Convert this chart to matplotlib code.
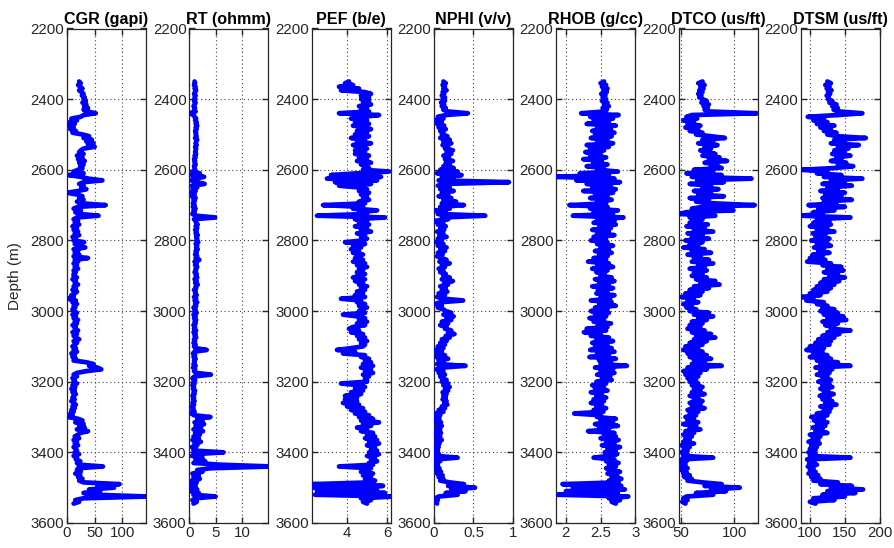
import numpy as np
import matplotlib
matplotlib.use('Agg')
import matplotlib.pyplot as plt

plt.rcParams['font.family'] = ['Liberation Sans', 'DejaVu Sans']

# Depth samples (m), 5 m spacing
depth = np.arange(2350, 3546, 5)

cgr = [22, 25, 20, 24, 28, 22, 26, 30, 27, 32,
       30, 34, 28, 35, 31, 38, 30, 36, 52, 30,
       25, 8, 18, 5, 14, 4, 12, 6, 16, 10,
       28, 40, 30, 45, 35, 48, 38, 50, 30, 25,
       22, 30, 18, 28, 20, 32, 22, 30, 24, 28,
       20, 12, 30, 3, 25, 38, 64, 30, 22, 30,
       26, 35, 20, 0, 18, 28, 22, 30, 18, 25,
       70, 20, 12, 25, 15, 22, 57, 18, 12, 20,
       14, 22, 10, 18, 12, 20, 14, 22, 10, 16,
       12, 31, 14, 20, 33, 12, 20, 14, 22, 12,
       38, 14, 20, 12, 18, 14, 20, 12, 16, 12,
       12, 18, 10, 16, 14, 20, 12, 16, 10, 18,
       14, 8, 12, 0, 16, 10, 18, 12, 15, 10,
       12, 18, 10, 16, 12, 20, 14, 18, 10, 16,
       14, 20, 10, 18, 12, 16, 22, 12, 18, 14,
       10, 16, 12, 18, 8, 14, 10, 16, 12, 35,
       48, 40, 55, 62, 35, 18, 12, 18, 10, 14,
       12, 18, 10, 15, 8, 14, 10, 16, 12, 10,
       14, 8, 12, 16, 10, 14, 8, 12, 6, 10,
       2, 20, 28, 15, 30, 22, 32, 18, 38, 24,
       20, 14, 22, 12, 18, 14, 20, 12, 16, 18,
       14, 22, 12, 18, 16, 24, 18, 22, 65, 20,
       18, 25, 15, 24, 20, 28, 22, 30, 95, 55,
       85, 40, 60, 30, 50, 145, 30, 15, 22, 12]

rt = [1.0, 1.1, 0.9, 1.2, 1.0, 1.3, 1.1, 0.9, 1.2, 1.0,
      1.1, 0.9, 1.2, 1.0, 0.8, 1.1, 0.9, 1.2, 0.1, 0.8,
      1.0, 1.3, 1.1, 1.4, 1.2, 1.5, 1.2, 1.4, 1.1, 1.3,
      1.2, 1.4, 1.1, 1.5, 1.3, 1.2, 1.4, 1.1, 1.3, 1.2,
      1.1, 1.3, 1.0, 1.2, 0.9, 1.1, 1.0, 1.2, 0.9, 1.0,
      1.1, 0.6, 2.0, 0.3, 2.8, 1.0, 0.4, 1.5, 2.9, 0.5,
      1.5, 0.6, 1.2, 0.4, 1.0, 0.5, 1.2, 0.8, 1.0, 0.7,
      1.0, 0.7, 1.2, 0.8, 1.0, 0.6, 1.2, 4.9, 0.9, 1.2,
      1.3, 1.6, 1.2, 1.5, 1.1, 1.4, 1.2, 1.6, 1.3, 1.5,
      1.4, 1.7, 1.2, 1.5, 1.3, 1.6, 1.2, 1.4, 1.1, 1.5,
      1.2, 1.9, 1.0, 1.4, 1.1, 1.5, 1.2, 1.3, 1.0, 1.4,
      1.2, 1.5, 1.0, 1.4, 1.1, 1.6, 1.2, 1.3, 0.9, 1.2,
      1.1, 1.4, 0.9, 1.3, 1.0, 1.5, 1.1, 1.3, 0.8, 1.2,
      1.0, 1.4, 0.8, 1.2, 0.9, 1.3, 1.0, 1.2, 0.8, 1.1,
      0.9, 1.3, 0.8, 1.2, 1.0, 1.3, 0.9, 1.1, 0.8, 1.2,
      0.9, 1.2, 3.3, 1.0, 0.7, 1.1, 0.8, 1.2, 0.9, 1.0,
      0.8, 1.2, 0.7, 1.1, 0.9, 1.3, 4.1, 1.0, 0.6, 1.1,
      0.8, 1.0, 0.6, 0.9, 0.7, 1.1, 0.8, 1.0, 0.6, 0.9,
      0.7, 1.0, 0.6, 0.9, 0.5, 0.8, 0.6, 1.0, 0.4, 0.9,
      4.0, 1.5, 2.5, 1.0, 2.8, 1.2, 2.2, 0.8, 2.6, 1.1,
      2.0, 0.8, 1.8, 0.6, 2.2, 1.0, 1.5, 0.5, 1.2, 0.8,
      6.5, 1.0, 0.5, 2.5, 1.2, 3.0, 0.8, 6.0, 15.5, 4.0,
      1.5, 2.5, 0.6, 1.8, 0.8, 2.0, 0.5, 1.4, 0.3, 1.2,
      0.4, 1.5, 0.3, 1.8, 0.8, 5.0, 1.2, 0.6, 1.4, 0.8]

pef = [4.1, 3.9, 4.3, 3.6, 4.6, 3.7, 4.9, 5.2, 4.7, 5.1,
       4.7, 5.1, 4.8, 5.2, 4.6, 5.0, 4.7, 5.1, 3.6, 5.6,
       4.8, 4.2, 5.0, 4.4, 5.1, 4.3, 4.9, 5.2, 4.5, 5.0,
       4.4, 5.1, 4.2, 4.9, 4.5, 5.2, 4.3, 4.8, 5.0, 4.4,
       4.9, 4.4, 5.1, 4.6, 5.0, 4.5, 5.2, 4.7, 4.9, 5.1,
       4.8, 6.1, 4.5, 3.2, 5.7, 3.0, 5.5, 3.4, 5.2, 3.6,
       4.6, 5.0, 4.6, 5.1, 4.7, 5.0, 4.8, 5.1, 4.6, 4.9,
       2.8, 4.8, 4.3, 5.5, 4.6, 5.0, 2.5, 5.9, 4.4, 5.0,
       4.6, 5.1, 4.4, 5.0, 4.7, 5.2, 4.5, 4.9, 4.7, 5.0,
       4.8, 3.9, 4.9, 4.3, 4.7, 4.2, 4.6, 4.3, 4.8, 4.5,
       4.4, 4.8, 4.3, 4.9, 4.5, 5.0, 4.6, 4.8, 4.5, 4.9,
       4.6, 4.3, 4.9, 4.4, 4.8, 4.6, 5.0, 4.7, 4.9, 4.5,
       4.8, 4.4, 4.9, 3.7, 4.7, 4.5, 4.9, 4.6, 5.0, 4.7,
       4.6, 4.9, 3.8, 4.5, 4.9, 4.6, 5.0, 4.5, 4.9, 4.3,
       4.1, 4.6, 4.2, 4.8, 4.5, 4.9, 4.6, 5.0, 4.7, 4.9,
       4.8, 4.2, 3.5, 4.4, 3.8, 4.9, 4.7, 5.1, 4.9, 5.2,
       4.8, 5.3, 4.7, 5.2, 4.9, 5.3, 4.8, 5.1, 4.9, 5.0,
       5.0, 3.7, 4.6, 4.9, 4.4, 4.8, 4.2, 4.7, 3.9, 4.5,
       3.9, 4.5, 3.8, 4.6, 4.0, 4.8, 4.2, 4.9, 4.4, 5.1,
       4.6, 5.3, 4.7, 5.6, 4.8, 5.2, 4.5, 5.0, 4.7, 5.3,
       5.0, 5.4, 4.9, 5.5, 5.1, 5.6, 5.0, 5.4, 5.2, 5.5,
       5.1, 5.6, 5.0, 5.4, 5.2, 5.5, 5.1, 5.3, 3.6, 5.2,
       5.0, 4.7, 5.3, 4.8, 5.2, 4.9, 5.4, 5.2, 2.3, 5.8,
       2.2, 5.5, 2.5, 5.9, 2.4, 6.3, 4.7, 5.2, 4.8, 5.0]

nphi = [0.12, 0.15, 0.11, 0.14, 0.12, 0.16, 0.11, 0.13, 0.10, 0.14,
        0.11, 0.14, 0.09, 0.13, 0.10, 0.15, 0.12, 0.18, 0.43, 0.15,
        0.05, 0.12, 0.02, 0.10, 0.04, 0.13, 0.06, 0.15, 0.08, 0.12,
        0.10, 0.17, 0.08, 0.20, 0.12, 0.22, 0.11, 0.18, 0.14, 0.24,
        0.16, 0.22, 0.12, 0.19, 0.14, 0.24, 0.15, 0.20, 0.12, 0.25,
        0.08, 0.30, 0.04, 0.35, 0.10, 0.25, 0.06, 0.95, 0.15, 0.05,
        0.20, 0.08, 0.25, 0.10, 0.18, 0.06, 0.22, 0.12, 0.28, 0.10,
        0.38, 0.08, 0.20, 0.02, 0.15, 0.05, 0.65, 0.10, 0.18, 0.00,
        0.12, 0.05, 0.15, 0.08, 0.13, 0.04, 0.12, 0.07, 0.16, 0.05,
        0.10, 0.03, 0.12, 0.05, 0.16, 0.08, 0.14, 0.05, 0.11, 0.04,
        0.10, 0.16, 0.07, 0.20, 0.10, 0.14, 0.06, 0.12, 0.08, 0.15,
        0.12, 0.20, 0.10, 0.24, 0.13, 0.18, 0.08, 0.15, 0.10, 0.17,
        0.06, 0.14, 0.04, 0.12, 0.37, 0.08, 0.02, 0.10, 0.05, 0.12,
        0.15, 0.22, 0.12, 0.25, 0.16, 0.22, 0.10, 0.18, 0.08, 0.16,
        0.14, 0.22, 0.18, 0.26, 0.15, 0.20, 0.10, 0.16, 0.08, 0.14,
        0.05, 0.12, 0.02, 0.10, 0.04, 0.14, 0.03, 0.18, 0.06, 0.12,
        0.04, 0.40, 0.10, 0.03, 0.12, 0.06, 0.14, 0.08, 0.10, 0.16,
        0.10, 0.18, 0.12, 0.20, 0.14, 0.18, 0.11, 0.16, 0.12, 0.15,
        0.11, 0.16, 0.13, 0.17, 0.10, 0.14, 0.06, 0.12, 0.02, 0.08,
        0.02, 0.07, 0.01, 0.09, 0.03, 0.10, 0.04, 0.08, 0.02, 0.09,
        0.03, 0.08, 0.02, 0.10, 0.04, 0.07, 0.01, 0.06, 0.02, 0.05,
        0.01, 0.06, 0.03, 0.30, 0.02, 0.08, 0.00, 0.05, 0.02, 0.07,
        0.03, 0.09, 0.04, 0.11, 0.06, 0.12, 0.08, 0.20, 0.38, 0.18,
        0.52, 0.22, 0.40, 0.15, 0.30, 0.06, 0.02, 0.05, 0.03, 0.04]

rhob = [2.55, 2.50, 2.58, 2.52, 2.60, 2.54, 2.59, 2.51, 2.57, 2.53,
        2.58, 2.52, 2.60, 2.55, 2.62, 2.53, 2.59, 2.55, 2.22, 2.76,
        2.35, 2.68, 2.40, 2.62, 2.30, 2.72, 2.45, 2.65, 2.38, 2.70,
        2.42, 2.66, 2.36, 2.60, 2.45, 2.68, 2.30, 2.62, 2.35, 2.55,
        2.28, 2.50, 2.35, 2.58, 2.25, 2.52, 2.40, 2.60, 2.30, 2.55,
        2.45, 2.75, 2.20, 2.62, 1.84, 2.70, 2.15, 2.78, 2.30, 2.65,
        2.38, 2.72, 2.25, 2.68, 2.42, 2.60, 2.35, 2.66, 2.45, 2.58,
        2.05, 2.60, 2.35, 2.75, 2.40, 2.68, 2.10, 2.83, 2.45, 2.70,
        2.40, 2.72, 2.48, 2.65, 2.38, 2.62, 2.45, 2.70, 2.40, 2.58,
        2.36, 2.60, 2.45, 2.68, 2.50, 2.62, 2.42, 2.66, 2.48, 2.60,
        2.40, 2.58, 2.32, 2.62, 2.45, 2.68, 2.38, 2.60, 2.44, 2.56,
        2.50, 2.66, 2.42, 2.70, 2.48, 2.62, 2.38, 2.68, 2.46, 2.60,
        2.44, 2.70, 2.50, 2.64, 2.36, 2.66, 2.48, 2.72, 2.42, 2.60,
        2.36, 2.62, 2.42, 2.58, 2.34, 2.55, 2.40, 2.65, 2.46, 2.60,
        2.30, 2.58, 2.26, 2.50, 2.36, 2.62, 2.44, 2.68, 2.38, 2.60,
        2.42, 2.66, 2.35, 2.70, 2.45, 2.62, 2.34, 2.72, 2.48, 2.65,
        2.50, 2.88, 2.42, 2.68, 2.50, 2.70, 2.45, 2.64, 2.52, 2.66,
        2.44, 2.58, 2.38, 2.55, 2.42, 2.60, 2.36, 2.52, 2.44, 2.58,
        2.40, 2.55, 2.36, 2.52, 2.44, 2.58, 2.40, 2.54, 2.12, 2.50,
        2.45, 2.72, 2.50, 2.68, 2.42, 2.75, 2.48, 2.62, 2.32, 2.70,
        2.55, 2.72, 2.50, 2.76, 2.58, 2.70, 2.52, 2.78, 2.60, 2.72,
        2.56, 2.74, 2.62, 2.40, 2.70, 2.58, 2.76, 2.62, 2.72, 2.58,
        2.65, 2.78, 2.60, 2.74, 2.66, 2.80, 2.62, 2.76, 1.95, 2.80,
        2.10, 2.85, 2.00, 2.75, 1.88, 2.90, 2.62, 2.78, 2.66, 2.72]

dtco = [70, 66, 72, 68, 71, 67, 70, 66, 69, 67,
        70, 74, 69, 76, 71, 75, 72, 77, 121, 60,
        55, 65, 52, 62, 56, 68, 54, 66, 58, 70,
        64, 78, 91, 70, 80, 66, 84, 72, 78, 68,
        74, 82, 70, 86, 76, 93, 72, 84, 78, 88,
        62, 80, 55, 88, 60, 116, 65, 90, 58, 78,
        70, 85, 62, 78, 66, 90, 58, 76, 64, 80,
        119, 70, 60, 99, 55, 48, 82, 58, 70, 62,
        58, 75, 55, 72, 62, 80, 56, 70, 60, 76,
        54, 70, 58, 66, 52, 72, 60, 78, 56, 68,
        62, 76, 60, 80, 66, 72, 58, 74, 62, 70,
        60, 74, 64, 82, 68, 86, 62, 76, 58, 70,
        54, 68, 50, 62, 56, 66, 52, 60, 55, 64,
        58, 76, 62, 80, 66, 74, 60, 70, 58, 68,
        56, 72, 60, 78, 64, 82, 62, 74, 58, 70,
        54, 66, 52, 70, 56, 74, 58, 78, 62, 72,
        60, 88, 56, 74, 52, 68, 54, 66, 56, 64,
        58, 66, 60, 70, 62, 68, 60, 72, 58, 66,
        62, 70, 58, 68, 60, 72, 56, 66, 58, 64,
        54, 62, 56, 66, 52, 64, 58, 68, 54, 62,
        52, 60, 54, 58, 52, 62, 50, 58, 53, 56,
        50, 56, 52, 80, 50, 55, 49, 54, 51, 56,
        50, 55, 52, 58, 53, 60, 56, 70, 88, 72,
        105, 78, 92, 64, 80, 55, 52, 56, 51, 54]

dtsm = [125, 130, 122, 128, 124, 131, 126, 129, 124, 127,
        126, 132, 128, 138, 132, 140, 134, 142, 175, 140,
        97, 120, 105, 125, 110, 135, 115, 130, 120, 138,
        125, 140, 180, 135, 150, 130, 170, 140, 155, 135,
        150, 132, 158, 138, 145, 130, 152, 140, 162, 135,
        88, 125, 110, 145, 120, 175, 130, 150, 118, 160,
        125, 140, 115, 150, 122, 145, 118, 160, 120, 138,
        98, 150, 112, 135, 105, 118, 87, 158, 110, 128,
        105, 130, 100, 125, 110, 135, 104, 122, 108, 128,
        102, 125, 110, 130, 106, 120, 112, 128, 104, 118,
        100, 122, 96, 130, 118, 145, 125, 148, 120, 140,
        128, 150, 120, 142, 115, 135, 110, 130, 105, 125,
        100, 115, 88, 105, 95, 120, 110, 125, 118, 135,
        115, 140, 120, 148, 125, 152, 118, 140, 122, 135,
        130, 158, 125, 142, 118, 135, 112, 130, 108, 128,
        100, 120, 95, 118, 105, 125, 100, 130, 110, 140,
        115, 158, 108, 132, 115, 128, 110, 125, 118, 130,
        112, 128, 118, 132, 115, 126, 120, 134, 114, 128,
        118, 132, 122, 138, 115, 130, 120, 128, 110, 125,
        102, 120, 106, 125, 110, 122, 104, 118, 108, 125,
        100, 115, 104, 112, 98, 114, 102, 110, 100, 108,
        98, 108, 100, 158, 96, 106, 99, 110, 97, 105,
        100, 108, 98, 112, 102, 115, 105, 140, 115, 160,
        130, 176, 125, 165, 118, 150, 105, 135, 100, 108]

titles = ["CGR (gapi)", "RT (ohmm)", "PEF (b/e)", "NPHI (v/v)",
          "RHOB (g/cc)", "DTCO (us/ft)", "DTSM (us/ft)"]
curves = [cgr, rt, pef, nphi, rhob, dtco, dtsm]
xlims = [(0, 143), (0, 15), (2.23, 6.18), (0, 1), (1.86, 3.0), (47.5, 121.6), (87, 200)]
xticks = [[0, 50, 100], [0, 5, 10], [4, 6], [0, 0.5, 1], [2, 2.5, 3], [50, 100], [100, 150, 200]]
xticklabels = [['0', '50', '100'], ['0', '5', '10'], ['4', '6'], ['0', '0.5', '1'],
               ['2', '2.5', '3'], ['50', '100'], ['100', '150', '200']]
yticks = [2200, 2400, 2600, 2800, 3000, 3200, 3400, 3600]

W, H = 894, 548
fig = plt.figure(figsize=(W / 100, H / 100), dpi=100)

txt = '#262626'
for i in range(7):
    left = 67 + i * 122.3
    ax = fig.add_axes([left / W, 25 / H, 79 / W, 494.5 / H])
    ax.plot(curves[i], depth, color='#0000FF', lw=3.4, solid_capstyle='round',
            solid_joinstyle='round', zorder=3)
    ax.set_xlim(*xlims[i])
    ax.set_ylim(3600, 2200)
    ax.set_xticks(xticks[i])
    ax.set_xticklabels(xticklabels[i])
    ax.set_yticks(yticks)
    ax.set_yticklabels([str(y) for y in yticks])
    ax.grid(True, color='#444444', linestyle=(0, (1, 2.5)), lw=0.8)
    ax.set_axisbelow(True)
    ax.tick_params(direction='in', top=True, right=True, length=4, width=1.0,
                   labelsize=10.8, colors=txt, pad=2)
    for s in ax.spines.values():
        s.set_color(txt)
        s.set_linewidth(0.9)
    ax.set_title(titles[i], fontsize=11.6, fontweight='bold', color='black', pad=3)
    if i == 0:
        ax.set_ylabel('Depth (m)', fontsize=11, color=txt)
        ax.yaxis.set_label_coords(-0.57, 0.5)

fig.savefig('out.png', dpi=100)
